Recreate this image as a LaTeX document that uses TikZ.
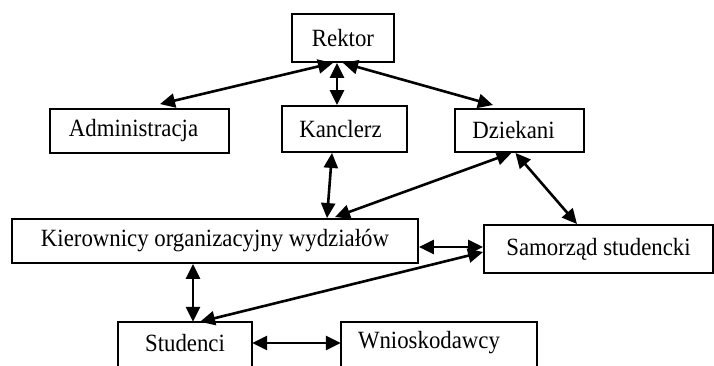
\documentclass[tikz,border=0pt]{standalone}
\usepackage{fontspec}
\setmainfont[FakeStretch=0.92]{Liberation Serif}
\usetikzlibrary{arrows.meta}
\begin{document}
\begin{tikzpicture}[x=1pt,y=-1pt,
  lbl/.style={inner sep=0pt,font=\fontsize{24.8}{28}\selectfont},
  box/.style={lbl,draw,line width=1.9pt},
  link/.style={line width=2.6pt,{Triangle[length=15pt,width=14pt]}-{Triangle[length=15pt,width=14pt]}}]
\useasboundingbox (0,0) rectangle (714,365);
\node[box,minimum width=102pt,minimum height=48pt] (rek) at (343,38) {Rektor};
\node[box,minimum width=179pt,minimum height=44pt] (adm) at (139.5,131) {\hspace*{-12pt}Administracja};
\node[box,minimum width=125pt,minimum height=46pt] (kan) at (344.5,129) {\hspace*{-8pt}Kanclerz};
\node[box,minimum width=129pt,minimum height=43pt] (dzi) at (519.5,130.5) {\hspace*{-12pt}Dziekani};
\node[box,minimum width=406pt,minimum height=44pt] (kie) at (215,241) {Kierownicy organizacyjny wydziałów};
\node[box,minimum width=229pt,minimum height=48pt] (sam) at (598.5,249) {Samorząd studencki};
\node[lbl,minimum width=134pt,minimum height=42pt] (stu) at (185,343) {Studenci};
\node[lbl,minimum width=196pt,minimum height=42pt] (wni) at (439,343) {\hspace*{-20pt}Wnioskodawcy};
\draw[line width=1.9pt] ([yshift=-30pt]stu.south west) -- (stu.north west) -- (stu.north east) -- ([yshift=-30pt]stu.south east);
\draw[line width=1.9pt] ([yshift=-30pt]wni.south west) -- (wni.north west) -- (wni.north east) -- ([yshift=-30pt]wni.south east);
\draw[link] ([xshift=-10pt]rek.south) -- ([xshift=20.5pt,yshift=4pt]adm.north);
\draw[link] ([xshift=-6pt]rek.south) -- ([xshift=-7.5pt]kan.north);
\draw[link] (rek.south) -- ([xshift=-26.5pt,yshift=3pt]dzi.north);
\draw[link] ([xshift=-12.5pt]kan.south) -- ([xshift=112pt]kie.north);
\draw[link] ([xshift=-8pt]dzi.south) -- ([xshift=120pt,yshift=1pt]kie.north);
\draw[link] ([xshift=-4pt]dzi.south) -- ([xshift=-21.5pt]sam.north);
\draw[link] ([yshift=-6pt]kie.east) -- ([yshift=2pt]sam.west);
\draw[link] ([yshift=-3pt]sam.west) -- ([xshift=15pt]stu.north);
\draw[link] ([xshift=-22pt]kie.south) -- ([xshift=8pt]stu.north);
\draw[link] (stu.east) -- (wni.west);
\end{tikzpicture}
\end{document}
